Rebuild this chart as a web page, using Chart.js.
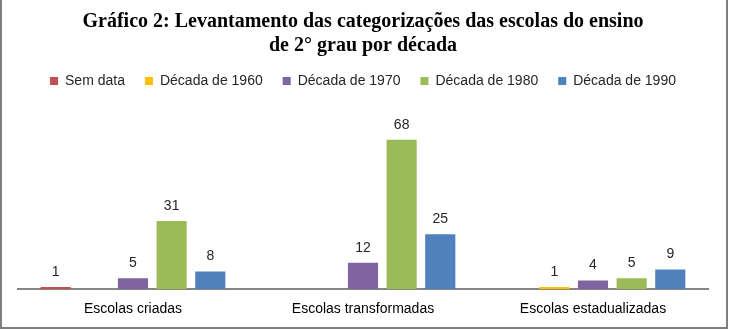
<!DOCTYPE html>
<html>
<head>
<meta charset="utf-8">
<script src="https://cdn.jsdelivr.net/npm/chart.js@4"></script>
<style>
  html, body { margin: 0; padding: 0; background: #fff; }
  canvas { display: block; }
</style>
</head>
<body>
<canvas id="chart" width="729" height="330"></canvas>
<script>
// data
const categories = ['Escolas criadas', 'Escolas transformadas', 'Escolas estadualizadas'];
const semData = [1, null, null];
const dec1960 = [null, null, 1];
const dec1970 = [5, 12, 4];
const dec1980 = [31, 68, 5];
const dec1990 = [8, 25, 9];

const seriesNames = ['Sem data', 'Década de 1960', 'Década de 1970', 'Década de 1980', 'Década de 1990'];
const seriesColors = ['#C0504D', '#FFC000', '#8064A2', '#9BBB59', '#4F81BD'];
const seriesValues = [semData, dec1960, dec1970, dec1980, dec1990];

// value labels above bars
const barLabels = {
    id: 'barLabels',
    afterDatasetsDraw(chart) {
        const c = chart.ctx;
        c.save();
        c.font = '14px "Liberation Sans"';
        c.fillStyle = '#262626';
        c.textAlign = 'center';
        c.textBaseline = 'bottom';
        chart.data.datasets.forEach((ds, i) => {
            chart.getDatasetMeta(i).data.forEach((bar, j) => {
                if (ds.data[j] == null) return;
                c.fillText(ds.data[j], bar.x, bar.y - 8);
            });
        });
        c.restore();
    }
};

// frame round the picture
const frame = {
    id: 'frame',
    afterDraw(chart) {
        const c = chart.ctx;
        c.save();
        c.strokeStyle = '#7f7f7f';
        c.lineWidth = 2;
        c.beginPath();
        c.moveTo(1, 0);
        c.lineTo(1, 328);
        c.lineTo(727, 328);
        c.lineTo(727, 0);
        c.stroke();
        c.restore();
    }
};

const ctx = document.getElementById('chart');
new Chart(ctx, {
    type: 'bar',
    data: {
        labels: categories,
        datasets: seriesNames.map((name, i) => ({
            label: name,
            data: seriesValues[i],
            backgroundColor: seriesColors[i],
            categoryPercentage: 0.84,
            barPercentage: 0.78
        }))
    },
    options: {
        responsive: false,
        animation: false,
        layout: { padding: { left: 18, right: 21, top: 0, bottom: 0 } },
        plugins: {
            title: {
                display: true,
                text: ['Gráfico 2: Levantamento das categorizações das escolas do ensino', 'de 2° grau por década'],
                font: { family: '"Liberation Serif"', size: 20, weight: 'bold' },
                color: '#000',
                padding: { top: 10, bottom: -4 },
                lineHeight: 1.25
            },
            legend: {
                labels: {
                    boxWidth: 8,
                    boxHeight: 8,
                    font: { family: '"Liberation Sans"', size: 14 },
                    color: '#262626',
                    padding: 20
                }
            },
            tooltip: { enabled: false }
        },
        scales: {
            x: {
                grid: { display: false, drawTicks: false },
                border: { color: '#868686', width: 2 },
                ticks: { font: { family: '"Liberation Sans"', size: 14 }, color: '#000', padding: 12 }
            },
            y: {
                display: false,
                min: 0,
                max: 87
            }
        }
    },
    plugins: [barLabels, frame]
});
</script>
</body>
</html>
